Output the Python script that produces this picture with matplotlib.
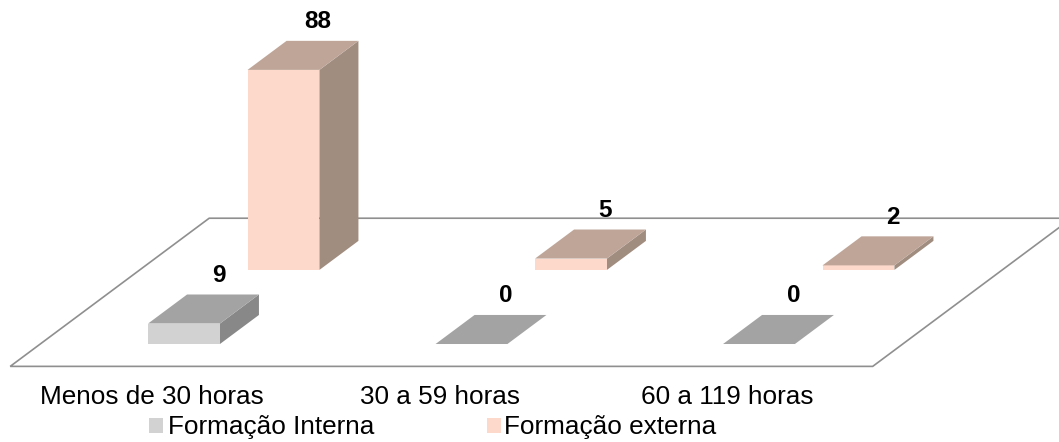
import matplotlib
matplotlib.use("Agg")
import matplotlib.pyplot as plt
from matplotlib.patches import Polygon, Rectangle

plt.rcParams['font.family'] = ['Liberation Sans', 'DejaVu Sans']

categories = ["Menos de 30 horas", "30 a 59 horas", "60 a 119 horas"]
series_names = ["Formação Interna", "Formação externa"]
interna = [9, 0, 0]
externa = [88, 5, 2]

# colours per series: front, top, side
face_colors = {
    "Formação Interna": ("#d2d2d2", "#a3a3a3", "#888888"),
    "Formação externa": ("#fdd9cb", "#bfa598", "#a18c80"),
}

# oblique projection of depth onto the data plane
DX = 0.1357      # category units per depth unit
DY = 12.78       # value units per depth unit
BAR_W = 0.25
ROW_T = {"Formação Interna": 0.0, "Formação externa": 2.55}


def proj(x, t, v):
    return (x + DX * t, v + DY * t)


fig = plt.figure(figsize=(10.59, 4.42), dpi=100)
ax = fig.add_axes([0, 0, 1, 1])
ax.set_xlim(-0.64, 3.0435)
ax.set_ylim(-43.11, 151.34)
ax.axis("off")

# floor
t0, t1 = -0.77, 4.33
x0, x1 = -0.5, 2.5
floor = [proj(x0, t0, 0), proj(x1, t0, 0), proj(x1, t1, 0), proj(x0, t1, 0)]
ax.add_patch(Polygon(floor, closed=True, facecolor="white",
                     edgecolor="#8f8f8f", linewidth=1.2, zorder=1))


def draw_bar(xc, t, v, colors, z):
    front, top, side = colors
    xl, xr = xc - BAR_W / 2, xc + BAR_W / 2
    # side face (right)
    ax.add_patch(Polygon([proj(xr, t, 0), proj(xr, t + 1, 0),
                          proj(xr, t + 1, v), proj(xr, t, v)],
                         facecolor=side, edgecolor="none", zorder=z))
    # front face
    ax.add_patch(Polygon([proj(xl, t, 0), proj(xr, t, 0),
                          proj(xr, t, v), proj(xl, t, v)],
                         facecolor=front, edgecolor="none", zorder=z))
    # top face
    ax.add_patch(Polygon([proj(xl, t, v), proj(xr, t, v),
                          proj(xr, t + 1, v), proj(xl, t + 1, v)],
                         facecolor=top, edgecolor="none", zorder=z))


series_vals = {"Formação Interna": interna, "Formação externa": externa}
# draw back row first
for z, name in ((2, "Formação externa"), (3, "Formação Interna")):
    t = ROW_T[name]
    for i, v in enumerate(series_vals[name]):
        draw_bar(i, t, v, face_colors[name], z)
        # value label above the top face
        lx, ly = proj(i, t + 1, v)
        ax.annotate(str(v), (lx - DX * 0.5, ly), xytext=(15, 19),
                    textcoords="offset pixels", ha="center", va="center",
                    fontsize=17.5, fontweight="bold", color="black",
                    zorder=5)

# category labels
for i, c in enumerate(categories):
    ax.text(i - 0.11, -26.4, c, ha="center", va="baseline",
            fontsize=18.8, color="black")

# legend
H = 442.0
W = 1059.0
legend_items = [(series_names[0], face_colors[series_names[0]][0], 149, 168),
                (series_names[1], face_colors[series_names[1]][0], 487, 504)]
for label, col, sx, tx in legend_items:
    fig.patches.append(Rectangle((sx / W, 1 - 433 / H), 14 / W, 15 / H,
                                 transform=fig.transFigure,
                                 facecolor=col, edgecolor="none"))
    fig.text(tx / W, 1 - 434 / H, label, ha="left", va="baseline",
             fontsize=18.8, color="black")

fig.savefig("out.png", dpi=100)
